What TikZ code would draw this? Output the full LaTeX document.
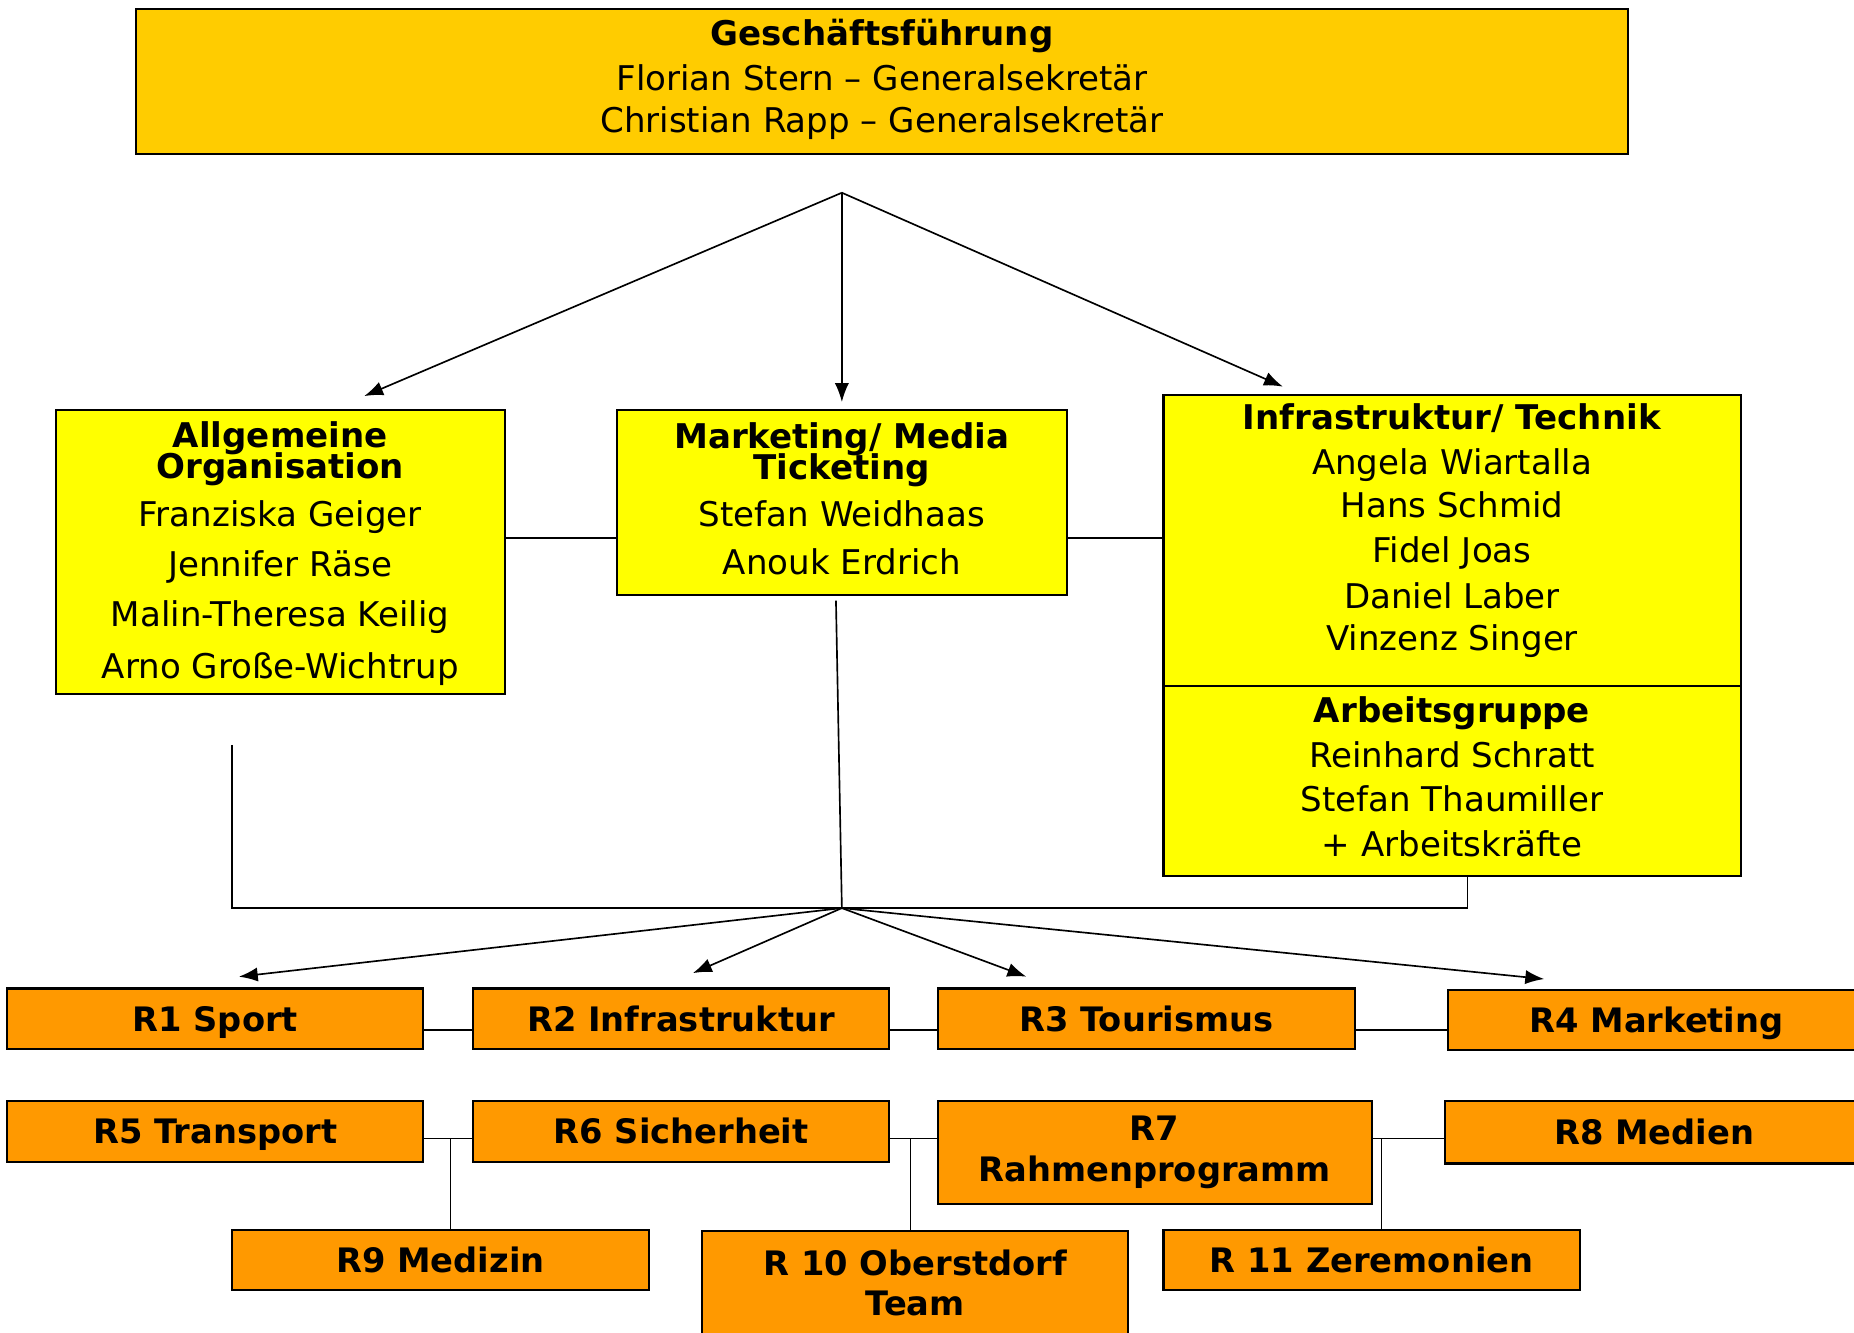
\documentclass[tikz,border=0pt]{standalone}
\usepackage{fontspec}
\setmainfont{DejaVu Sans}
\usetikzlibrary{arrows.meta}
\definecolor{gold}{HTML}{FFCC00}
\definecolor{yel}{HTML}{FFFF00}
\definecolor{ora}{HTML}{FF9900}
\newcommand\fsz{\fontsize{28.8}{37}\selectfont}
\newcommand\fszb{\fontsize{28.5}{37}\selectfont}
\begin{document}
\begin{tikzpicture}[x=1pt,y=-1pt,
  box/.style={draw, line width=1.7pt, inner sep=0pt, align=center, font=\fsz},
  gbox/.style={box, fill=gold},
  ybox/.style={box, fill=yel},
  obox/.style={box, fill=ora, font=\fszb\bfseries},
  oline/.style={obox, text height=27pt, text depth=6pt},
  txt/.style={align=center, font=\fsz, inner sep=0pt},
  conn/.style={line width=1.4pt},
  thinconn/.style={line width=0.9pt},
  arr/.style={conn, -{Latex[length=16pt,width=12pt]}}
]
\useasboundingbox (0,0) rectangle (1568,1127);
\clip (0,0) rectangle (1568,1127);
\fill[white] (0,0) rectangle (1568,1127);

% top
\node[gbox, minimum width=1262pt, minimum height=122pt] (GF) at (746,69) {};
\node[txt] (GFtxt) at (746,67)
  {\textbf{Geschäftsführung}\\[1pt]Florian Stern – Generalsekretär\\[-2pt]Christian Rapp – Generalsekretär};

% middle row
\node[ybox, minimum width=380pt, minimum height=240pt] (AO) at (237,467) {};
\node[txt] (AOtxt) at (237,468)
  {\textbf{Allgemeine}\\[-11pt]\textbf{Organisation}\\[4pt]Franziska Geiger\\[5pt]Jennifer Räse\\[5pt]Malin-Theresa Keilig\\[7pt]Arno Große-Wichtrup};
\node[ybox, minimum width=380pt, minimum height=156pt] (MM) at (712,425) {};
\node[txt] (MMtxt) at (712,422)
  {\textbf{Marketing/ Media}\\[-11pt]\textbf{Ticketing}\\[3pt]Stefan Weidhaas\\[4pt]Anouk Erdrich};
\node[ybox, minimum width=488pt, minimum height=246pt] (IT) at (1228,457) {};
\node[txt] (ITtxt) at (1228,449)
  {\textbf{Infrastruktur/ Technik}\\[1pt]Angela Wiartalla\\[-1pt]Hans Schmid\\[1pt]Fidel Joas\\[2pt]Daniel Laber\\[-1pt]Vinzenz Singer};
\node[ybox, minimum width=488pt, minimum height=161pt] (ITlow) at (1228,660.5) {};
\node[txt] (ITlowtxt) at (1228,657)
  {\textbf{Arbeitsgruppe}\\[1pt]Reinhard Schratt\\Stefan Thaumiller\\[1pt]+ Arbeitskräfte};

% row 1
\node[oline, minimum width=352pt, minimum height=51pt] (R1) at (182,861.5) {R1 Sport};
\node[oline, minimum width=352pt, minimum height=51pt] (R2) at (576,861.5) {R2 Infrastruktur};
\node[oline, minimum width=353pt, minimum height=51pt] (R3) at (969.5,861.5) {R3 Tourismus};
\node[oline, minimum width=352pt, minimum height=51pt] (R4) at (1401,862.5) {R4 Marketing};
% row 2
\node[oline, minimum width=352pt, minimum height=52pt] (R5) at (182,957) {R5 Transport};
\node[oline, minimum width=352pt, minimum height=52pt] (R6) at (576,957) {R6 Sicherheit};
\node[obox, minimum width=367pt, minimum height=87pt] (R7) at (976.5,974.5) {R7\\[-3pt]Rahmenprogramm};
\node[oline, minimum width=354pt, minimum height=53pt] (R8) at (1399,957.5) {R8 Medien};
% row 3
\node[oline, minimum width=353pt, minimum height=51pt] (R9) at (372.5,1065.5) {R9 Medizin};
\node[obox, minimum width=360pt, minimum height=88pt] (R10) at (774,1085) {R 10 Oberstdorf\\[-3pt]Team};
\node[oline, minimum width=352pt, minimum height=51pt] (R11) at (1160,1065.5) {R 11 Zeremonien};

% helper coordinates
\coordinate (apex) at (712,163);
\coordinate (t1) at (308,335);
\coordinate (t2) at (712,340);
\coordinate (t3) at (1085,327);
\coordinate (y1) at (0,455);
\coordinate (y2) at (0,871);
\coordinate (y3) at (0,963);
\coordinate (mmfoot) at (707,508);
\coordinate (aofoot) at (196,630);
\coordinate (hub) at (712,768);
\coordinate (b1) at (202,826);
\coordinate (b2) at (586,823);
\coordinate (b3) at (868,826);
\coordinate (b4) at (1306,828);
\coordinate (d9) at (381,963);
\coordinate (d10) at (770,963);
\coordinate (d11) at (1168,963);

% top arrows
\draw[arr] (apex) -- (t1);
\draw[arr] (apex) -- (t2);
\draw[arr] (apex) -- (t3);

% middle links
\draw[conn] (AO.east |- y1) -- (MM.west |- y1);
\draw[conn] (MM.east |- y1) -- (IT.west |- y1);
\draw[conn] (mmfoot) -- (hub);
\draw[conn] (aofoot) |- (hub) -| ([xshift=13pt]ITlow.south);

% bottom arrows
\draw[arr] (hub) -- (b1);
\draw[arr] (hub) -- (b2);
\draw[arr] (hub) -- (b3);
\draw[arr] (hub) -- (b4);

% row links
\draw[conn] (R1.east |- y2) -- (R2.west |- y2);
\draw[conn] (R2.east |- y2) -- (R3.west |- y2);
\draw[conn] (R3.east |- y2) -- (R4.west |- y2);
\draw[conn] (R5.east |- y3) -- (R6.west |- y3);
\draw[conn] (R6.east |- y3) -- (R7.west |- y3);
\draw[conn] (R7.east |- y3) -- (R8.west |- y3);
\draw[thinconn] (d9) -- (R9.north -| d9);
\draw[thinconn] (d10) -- (R10.north -| d10);
\draw[thinconn] (d11) -- (R11.north -| d11);
\end{tikzpicture}
\end{document}
